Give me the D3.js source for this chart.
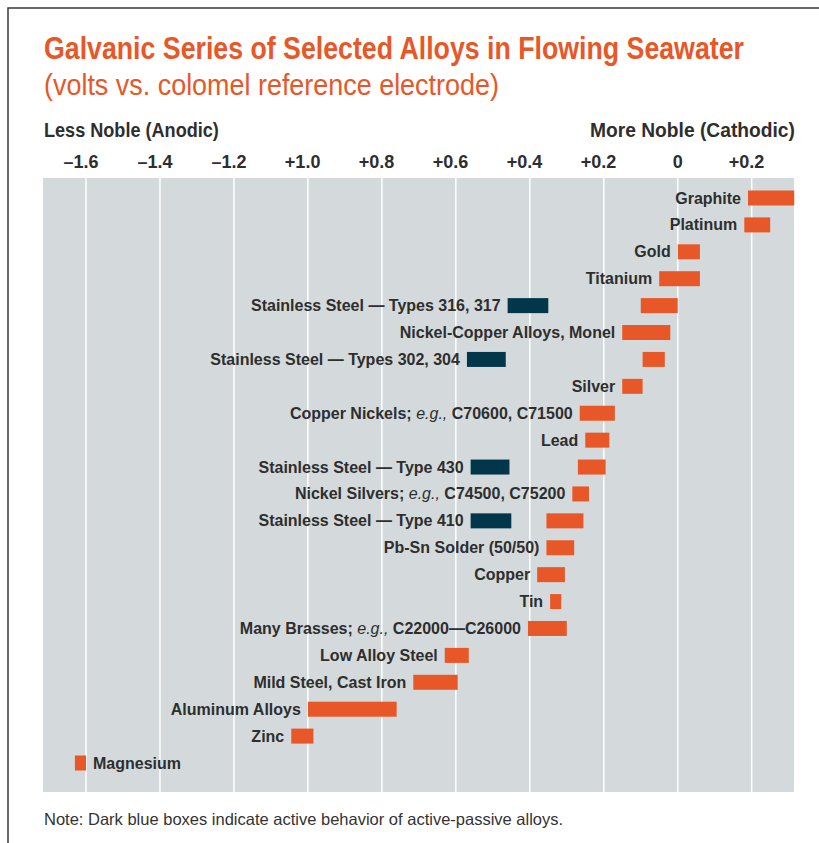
<!DOCTYPE html>
<html lang="en">
<head>
  <meta charset="UTF-8">
  <title>Galvanic Series</title>
  <script src="https://d3js.org/d3.v7.min.js"></script>
  <style>
    body { margin: 0; background: #fff; }
    text { font-family: "Liberation Sans", Arial, sans-serif; }
    .lbl { font-size: 16px; font-weight: bold; fill: #2e2e2e; }
    .tick { font-size: 18px; font-weight: bold; fill: #2e2e2e; }
  </style>
</head>
<body>
<script>
// svg size
var width = 819,
    height = 843;

// alloys, most noble first
var alloys = [
  "Graphite", "Platinum", "Gold", "Titanium",
  "Stainless Steel \u2014 Types 316, 317", "Nickel-Copper Alloys, Monel",
  "Stainless Steel \u2014 Types 302, 304", "Silver",
  "Copper Nickels; e.g., C70600, C71500", "Lead",
  "Stainless Steel \u2014 Type 430", "Nickel Silvers; e.g., C74500, C75200",
  "Stainless Steel \u2014 Type 410", "Pb-Sn Solder (50/50)", "Copper", "Tin",
  "Many Brasses; e.g., C22000\u2014C26000", "Low Alloy Steel",
  "Mild Steel, Cast Iron", "Aluminum Alloys", "Zinc", "Magnesium"
];
// potential range (V)
var lowV  = [0.19, 0.18, 0.0, -0.05, -0.10, -0.15, -0.095, -0.15, -0.265, -0.25, -0.27, -0.285,
             -0.355, -0.355, -0.38, -0.345, -0.405, -0.63, -0.715, -1.0, -1.045, -1.63];
var highV = [0.315, 0.25, 0.06, 0.06, 0.0, -0.02, -0.035, -0.095, -0.17, -0.185, -0.195, -0.24,
             -0.255, -0.28, -0.305, -0.315, -0.30, -0.565, -0.595, -0.76, -0.985, -1.60];
// active (dark blue) range for active-passive alloys
var activeLow  = [null, null, null, null, -0.46, null, -0.57, null, null, null, -0.56, null,
                  -0.56, null, null, null, null, null, null, null, null, null];
var activeHigh = [null, null, null, null, -0.35, null, -0.465, null, null, null, -0.455, null,
                  -0.45, null, null, null, null, null, null, null, null, null];

var tickValues = [-1.6, -1.4, -1.2, -1.0, -0.8, -0.6, -0.4, -0.2, 0, 0.2];
var tickLabels = ["\u20131.6", "\u20131.4", "\u20131.2", "+1.0", "+0.8", "+0.6", "+0.4", "+0.2", "0", "+0.2"];

var orange = "#e85727",
    navy = "#02374b",
    panel = "#d4dadb";

var svg = d3.select("body").append("svg")
    .attr("width", width)
    .attr("height", height);

// outer frame
svg.append("path")
    .attr("d", "M8,845 V8 H821")
    .attr("fill", "none")
    .attr("stroke", "#3a3a3a")
    .attr("stroke-width", 1.5);

// condensed-looking headings: squeeze text horizontally to a target width
function heading(txt, x0, y0, w, size, weight, color) {
  var g = svg.append("g");
  var t = g.append("text")
      .style("font-size", size + "px")
      .style("font-weight", weight)
      .style("fill", color)
      .text(txt);
  var sx = w / t.node().getComputedTextLength();
  g.attr("transform", "translate(" + x0 + "," + y0 + ") scale(" + sx + ",1)");
}

heading("Galvanic Series of Selected Alloys in Flowing Seawater", 44, 59, 700, 31, "bold", orange);
heading("(volts vs. colomel reference electrode)", 44, 95, 455, 30, "normal", orange);
heading("Less Noble (Anodic)", 44, 137, 175, 20, "bold", "#2e2e2e");
heading("More Noble (Cathodic)", 590, 137, 205, 20, "bold", "#2e2e2e");

// scales
var x = d3.scaleLinear().domain([-1.6, 0.2]).range([86, 751.7]);
var y = d3.scalePoint().domain(d3.range(alloys.length)).range([198, 763]);
var barH = 15;

// panel + grid
var panelTop = 178, panelBottom = 792;
svg.append("rect")
    .attr("x", 43).attr("y", panelTop)
    .attr("width", 751).attr("height", panelBottom - panelTop)
    .attr("fill", panel);

svg.append("g").selectAll("line").data(tickValues).enter().append("line")
    .attr("x1", function(d){ return x(d); })
    .attr("x2", function(d){ return x(d); })
    .attr("y1", panelTop).attr("y2", panelBottom)
    .attr("stroke", "#fff")
    .attr("stroke-width", 1.5);

// tick labels: number centred on the gridline, sign hanging left
svg.append("g").selectAll("text").data(tickValues).enter().append("text")
    .attr("class", "tick")
    .attr("y", 168)
    .text(function(d, i){ return tickLabels[i]; })
    .each(function(d, i) {
      var t = d3.select(this);
      var total = this.getComputedTextLength();
      var signW = /^[0-9]/.test(tickLabels[i]) ? 0 : this.getSubStringLength(0, 1);
      t.attr("x", x(d) - (total - signW) / 2 - signW);
    });

// bars
var rows = svg.append("g").selectAll("g").data(alloys).enter().append("g");

rows.append("rect")
    .attr("x", function(d, i){ return x(lowV[i]); })
    .attr("y", function(d, i){ return y(i) - barH / 2; })
    .attr("width", function(d, i){ return x(highV[i]) - x(lowV[i]); })
    .attr("height", barH)
    .attr("fill", orange);

rows.filter(function(d, i){ return activeLow[i] != null; })
  .append("rect")
    .attr("x", function(d){ var i = alloys.indexOf(d); return x(activeLow[i]); })
    .attr("y", function(d){ return y(alloys.indexOf(d)) - barH / 2; })
    .attr("width", function(d){ var i = alloys.indexOf(d); return x(activeHigh[i]) - x(activeLow[i]); })
    .attr("height", barH)
    .attr("fill", navy);

// labels (e.g., in italic)
rows.append("text")
    .attr("class", "lbl")
    .attr("y", function(d, i){ return y(i) + 5.5; })
    .each(function(d, i) {
      var t = d3.select(this);
      var parts = d.split("e.g.,");
      t.append("tspan").text(parts[0]);
      if (parts.length > 1) {
        t.append("tspan").style("font-style", "italic").style("font-weight", "normal").text("e.g.,");
        t.append("tspan").text(parts[1]);
      }
      var left = activeLow[i] != null ? Math.min(lowV[i], activeLow[i]) : lowV[i];
      var w = this.getComputedTextLength();
      if (x(left) - 7 - w < 50) {
        t.attr("x", x(highV[i]) + 7).attr("text-anchor", "start");
      } else {
        t.attr("x", x(left) - 7).attr("text-anchor", "end");
      }
    });

// note
svg.append("text")
    .attr("x", 44).attr("y", 825)
    .style("font-size", "16.5px").style("fill", "#333")
    .text("Note: Dark blue boxes indicate active behavior of active-passive alloys.");
</script>
</body>
</html>
